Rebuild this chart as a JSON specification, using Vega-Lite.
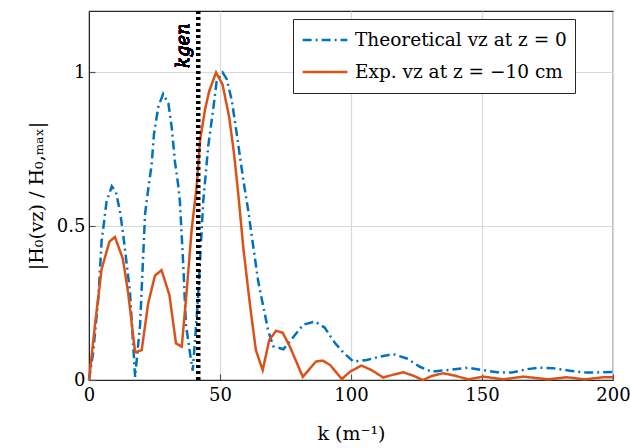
{
  "$schema": "https://vega.github.io/schema/vega-lite/v6.json",
  "width": 524,
  "height": 369,
  "autosize": "none",
  "padding": {"left": 89, "top": 11, "right": 17, "bottom": 68},
  "config": {
    "font": "DejaVu Serif",
    "view": {"stroke": "#262626", "strokeWidth": 1.2},
    "axis": {
      "labelFont": "DejaVu Serif", "titleFont": "DejaVu Serif",
      "labelFontSize": 18, "titleFontSize": 19, "labelColor": "#000", "titleColor": "#000",
      "titleFontWeight": "normal", "gridColor": "#d9d9d9", "gridWidth": 1.2,
      "domainColor": "#262626", "tickColor": "#555", "tickSize": -6, "tickWidth": 1.2,
      "labelFlush": false
    }
  },
  "data": {"values": [
    {"k": 0, "v": 0, "s": "Theoretical vz at z = 0"},
    {"k": 1.6, "v": 0.09, "s": "Theoretical vz at z = 0"},
    {"k": 3.6, "v": 0.27, "s": "Theoretical vz at z = 0"},
    {"k": 4.8, "v": 0.45, "s": "Theoretical vz at z = 0"},
    {"k": 6.7, "v": 0.58, "s": "Theoretical vz at z = 0"},
    {"k": 8.7, "v": 0.63, "s": "Theoretical vz at z = 0"},
    {"k": 10.3, "v": 0.61, "s": "Theoretical vz at z = 0"},
    {"k": 11.8, "v": 0.55, "s": "Theoretical vz at z = 0"},
    {"k": 13.1, "v": 0.47, "s": "Theoretical vz at z = 0"},
    {"k": 15.6, "v": 0.29, "s": "Theoretical vz at z = 0"},
    {"k": 17.6, "v": 0.01, "s": "Theoretical vz at z = 0"},
    {"k": 19.5, "v": 0.18, "s": "Theoretical vz at z = 0"},
    {"k": 21.4, "v": 0.54, "s": "Theoretical vz at z = 0"},
    {"k": 22.6, "v": 0.62, "s": "Theoretical vz at z = 0"},
    {"k": 23.9, "v": 0.7, "s": "Theoretical vz at z = 0"},
    {"k": 24.8, "v": 0.8, "s": "Theoretical vz at z = 0"},
    {"k": 26.5, "v": 0.89, "s": "Theoretical vz at z = 0"},
    {"k": 28.3, "v": 0.93, "s": "Theoretical vz at z = 0"},
    {"k": 30.3, "v": 0.9, "s": "Theoretical vz at z = 0"},
    {"k": 31.6, "v": 0.82, "s": "Theoretical vz at z = 0"},
    {"k": 32.8, "v": 0.71, "s": "Theoretical vz at z = 0"},
    {"k": 34.1, "v": 0.63, "s": "Theoretical vz at z = 0"},
    {"k": 34.7, "v": 0.58, "s": "Theoretical vz at z = 0"},
    {"k": 36, "v": 0.37, "s": "Theoretical vz at z = 0"},
    {"k": 37, "v": 0.18, "s": "Theoretical vz at z = 0"},
    {"k": 38.5, "v": 0.09, "s": "Theoretical vz at z = 0"},
    {"k": 39.6, "v": 0.03, "s": "Theoretical vz at z = 0"},
    {"k": 41.5, "v": 0.25, "s": "Theoretical vz at z = 0"},
    {"k": 43.6, "v": 0.58, "s": "Theoretical vz at z = 0"},
    {"k": 45.5, "v": 0.76, "s": "Theoretical vz at z = 0"},
    {"k": 47.4, "v": 0.88, "s": "Theoretical vz at z = 0"},
    {"k": 48.7, "v": 0.97, "s": "Theoretical vz at z = 0"},
    {"k": 51, "v": 1.0, "s": "Theoretical vz at z = 0"},
    {"k": 52.5, "v": 0.98, "s": "Theoretical vz at z = 0"},
    {"k": 54.5, "v": 0.91, "s": "Theoretical vz at z = 0"},
    {"k": 56.4, "v": 0.8, "s": "Theoretical vz at z = 0"},
    {"k": 58.9, "v": 0.65, "s": "Theoretical vz at z = 0"},
    {"k": 60.8, "v": 0.55, "s": "Theoretical vz at z = 0"},
    {"k": 62.1, "v": 0.47, "s": "Theoretical vz at z = 0"},
    {"k": 64.6, "v": 0.32, "s": "Theoretical vz at z = 0"},
    {"k": 66.5, "v": 0.24, "s": "Theoretical vz at z = 0"},
    {"k": 68.4, "v": 0.16, "s": "Theoretical vz at z = 0"},
    {"k": 70.3, "v": 0.11, "s": "Theoretical vz at z = 0"},
    {"k": 74.2, "v": 0.1, "s": "Theoretical vz at z = 0"},
    {"k": 78, "v": 0.14, "s": "Theoretical vz at z = 0"},
    {"k": 81.8, "v": 0.18, "s": "Theoretical vz at z = 0"},
    {"k": 86.3, "v": 0.19, "s": "Theoretical vz at z = 0"},
    {"k": 90, "v": 0.17, "s": "Theoretical vz at z = 0"},
    {"k": 93.9, "v": 0.12, "s": "Theoretical vz at z = 0"},
    {"k": 97, "v": 0.09, "s": "Theoretical vz at z = 0"},
    {"k": 100.9, "v": 0.06, "s": "Theoretical vz at z = 0"},
    {"k": 106, "v": 0.065, "s": "Theoretical vz at z = 0"},
    {"k": 111, "v": 0.076, "s": "Theoretical vz at z = 0"},
    {"k": 116.1, "v": 0.084, "s": "Theoretical vz at z = 0"},
    {"k": 121.3, "v": 0.07, "s": "Theoretical vz at z = 0"},
    {"k": 126.3, "v": 0.043, "s": "Theoretical vz at z = 0"},
    {"k": 130.8, "v": 0.027, "s": "Theoretical vz at z = 0"},
    {"k": 136.5, "v": 0.032, "s": "Theoretical vz at z = 0"},
    {"k": 144.8, "v": 0.04, "s": "Theoretical vz at z = 0"},
    {"k": 150.5, "v": 0.032, "s": "Theoretical vz at z = 0"},
    {"k": 156.9, "v": 0.024, "s": "Theoretical vz at z = 0"},
    {"k": 161.3, "v": 0.024, "s": "Theoretical vz at z = 0"},
    {"k": 167, "v": 0.035, "s": "Theoretical vz at z = 0"},
    {"k": 172, "v": 0.04, "s": "Theoretical vz at z = 0"},
    {"k": 177.2, "v": 0.038, "s": "Theoretical vz at z = 0"},
    {"k": 183.6, "v": 0.03, "s": "Theoretical vz at z = 0"},
    {"k": 190, "v": 0.024, "s": "Theoretical vz at z = 0"},
    {"k": 200, "v": 0.026, "s": "Theoretical vz at z = 0"},

    {"k": 0, "v": 0, "s": "Exp. vz at z = −10 cm"},
    {"k": 2.3, "v": 0.18, "s": "Exp. vz at z = −10 cm"},
    {"k": 4.8, "v": 0.36, "s": "Exp. vz at z = −10 cm"},
    {"k": 7.8, "v": 0.45, "s": "Exp. vz at z = −10 cm"},
    {"k": 9.9, "v": 0.465, "s": "Exp. vz at z = −10 cm"},
    {"k": 12.9, "v": 0.395, "s": "Exp. vz at z = −10 cm"},
    {"k": 15, "v": 0.28, "s": "Exp. vz at z = −10 cm"},
    {"k": 17.6, "v": 0.09, "s": "Exp. vz at z = −10 cm"},
    {"k": 20.1, "v": 0.097, "s": "Exp. vz at z = −10 cm"},
    {"k": 22.6, "v": 0.25, "s": "Exp. vz at z = −10 cm"},
    {"k": 25.2, "v": 0.34, "s": "Exp. vz at z = −10 cm"},
    {"k": 27.7, "v": 0.357, "s": "Exp. vz at z = −10 cm"},
    {"k": 30.7, "v": 0.276, "s": "Exp. vz at z = −10 cm"},
    {"k": 33.2, "v": 0.119, "s": "Exp. vz at z = −10 cm"},
    {"k": 35.4, "v": 0.108, "s": "Exp. vz at z = −10 cm"},
    {"k": 37.3, "v": 0.29, "s": "Exp. vz at z = −10 cm"},
    {"k": 39.2, "v": 0.49, "s": "Exp. vz at z = −10 cm"},
    {"k": 41.1, "v": 0.63, "s": "Exp. vz at z = −10 cm"},
    {"k": 42.4, "v": 0.78, "s": "Exp. vz at z = −10 cm"},
    {"k": 44.3, "v": 0.88, "s": "Exp. vz at z = −10 cm"},
    {"k": 45.9, "v": 0.94, "s": "Exp. vz at z = −10 cm"},
    {"k": 48.5, "v": 1.0, "s": "Exp. vz at z = −10 cm"},
    {"k": 51, "v": 0.96, "s": "Exp. vz at z = −10 cm"},
    {"k": 53.5, "v": 0.855, "s": "Exp. vz at z = −10 cm"},
    {"k": 55.3, "v": 0.74, "s": "Exp. vz at z = −10 cm"},
    {"k": 56.8, "v": 0.62, "s": "Exp. vz at z = −10 cm"},
    {"k": 58.9, "v": 0.43, "s": "Exp. vz at z = −10 cm"},
    {"k": 61.5, "v": 0.24, "s": "Exp. vz at z = −10 cm"},
    {"k": 63.7, "v": 0.097, "s": "Exp. vz at z = −10 cm"},
    {"k": 66.3, "v": 0.032, "s": "Exp. vz at z = −10 cm"},
    {"k": 68.8, "v": 0.13, "s": "Exp. vz at z = −10 cm"},
    {"k": 71.4, "v": 0.16, "s": "Exp. vz at z = −10 cm"},
    {"k": 73.9, "v": 0.154, "s": "Exp. vz at z = −10 cm"},
    {"k": 76.7, "v": 0.108, "s": "Exp. vz at z = −10 cm"},
    {"k": 81.6, "v": 0.01, "s": "Exp. vz at z = −10 cm"},
    {"k": 86.6, "v": 0.06, "s": "Exp. vz at z = −10 cm"},
    {"k": 89.2, "v": 0.063, "s": "Exp. vz at z = −10 cm"},
    {"k": 92, "v": 0.049, "s": "Exp. vz at z = −10 cm"},
    {"k": 96.5, "v": 0.003, "s": "Exp. vz at z = −10 cm"},
    {"k": 99.6, "v": 0.027, "s": "Exp. vz at z = −10 cm"},
    {"k": 104, "v": 0.047, "s": "Exp. vz at z = −10 cm"},
    {"k": 107.9, "v": 0.032, "s": "Exp. vz at z = −10 cm"},
    {"k": 112.3, "v": 0.008, "s": "Exp. vz at z = −10 cm"},
    {"k": 115.5, "v": 0.016, "s": "Exp. vz at z = −10 cm"},
    {"k": 120, "v": 0.025, "s": "Exp. vz at z = −10 cm"},
    {"k": 123.8, "v": 0.014, "s": "Exp. vz at z = −10 cm"},
    {"k": 127.4, "v": 0.0, "s": "Exp. vz at z = −10 cm"},
    {"k": 130.8, "v": 0.013, "s": "Exp. vz at z = −10 cm"},
    {"k": 135.2, "v": 0.022, "s": "Exp. vz at z = −10 cm"},
    {"k": 139.7, "v": 0.014, "s": "Exp. vz at z = −10 cm"},
    {"k": 144.8, "v": 0.002, "s": "Exp. vz at z = −10 cm"},
    {"k": 150.5, "v": 0.011, "s": "Exp. vz at z = −10 cm"},
    {"k": 158.1, "v": 0.002, "s": "Exp. vz at z = −10 cm"},
    {"k": 165.8, "v": 0.011, "s": "Exp. vz at z = −10 cm"},
    {"k": 175.3, "v": 0.002, "s": "Exp. vz at z = −10 cm"},
    {"k": 182.3, "v": 0.009, "s": "Exp. vz at z = −10 cm"},
    {"k": 189.3, "v": 0.002, "s": "Exp. vz at z = −10 cm"},
    {"k": 196.3, "v": 0.009, "s": "Exp. vz at z = −10 cm"},
    {"k": 200, "v": 0.009, "s": "Exp. vz at z = −10 cm"}
  ]},
  "layer": [
    {
      "mark": {"type": "line", "strokeWidth": 2.5},
      "encoding": {
        "x": {"field": "k", "type": "quantitative", "scale": {"domain": [0, 200], "nice": false},
              "axis": {"values": [0, 50, 100, 150, 200], "title": "k (m⁻¹)", "labelPadding": 12, "titlePadding": 20}},
        "y": {"field": "v", "type": "quantitative", "scale": {"domain": [0, 1.2], "nice": false},
              "axis": {"values": [0, 0.5, 1], "labelExpr": "datum.value + ''", "title": "|H₀(vz) / H₀,ₘₐₓ|", "labelPadding": 10, "titlePadding": 10}},
        "color": {"field": "s", "type": "nominal",
                  "scale": {"domain": ["Theoretical vz at z = 0", "Exp. vz at z = −10 cm"], "range": ["#0072BD", "#D95319"]},
                  "legend": {"title": null, "orient": "none", "legendX": 204, "legendY": 8,
                             "labelFont": "DejaVu Serif", "labelFontSize": 18.5, "labelColor": "#000",
                             "symbolType": "stroke", "symbolSize": 2000, "symbolStrokeWidth": 2.5,
                             "clipHeight": 26, "strokeColor": "#262626", "fillColor": "white",
                             "padding": 8, "rowPadding": 6, "labelLimit": 400, "labelOffset": 6}},
        "strokeDash": {"field": "s", "type": "nominal",
                       "scale": {"domain": ["Theoretical vz at z = 0", "Exp. vz at z = −10 cm"], "range": [[9, 4, 2, 4], [1, 0]]},
                       "legend": null},
        "order": {"field": "k", "type": "quantitative"}
      }
    },
    {
      "mark": {"type": "rule", "strokeWidth": 3.5, "strokeDash": [3, 3], "color": "#000"},
      "encoding": {"x": {"datum": 41.7, "type": "quantitative"}}
    },
    {
      "mark": {"type": "text", "text": "kgen", "angle": 270, "align": "right", "baseline": "bottom", "dy": -5, "fontSize": 18, "fontStyle": "italic", "font": "DejaVu Serif", "color": "#000"},
      "encoding": {"x": {"datum": 41.7, "type": "quantitative"}, "y": {"datum": 1.16, "type": "quantitative"}}
    }
  ]
}
